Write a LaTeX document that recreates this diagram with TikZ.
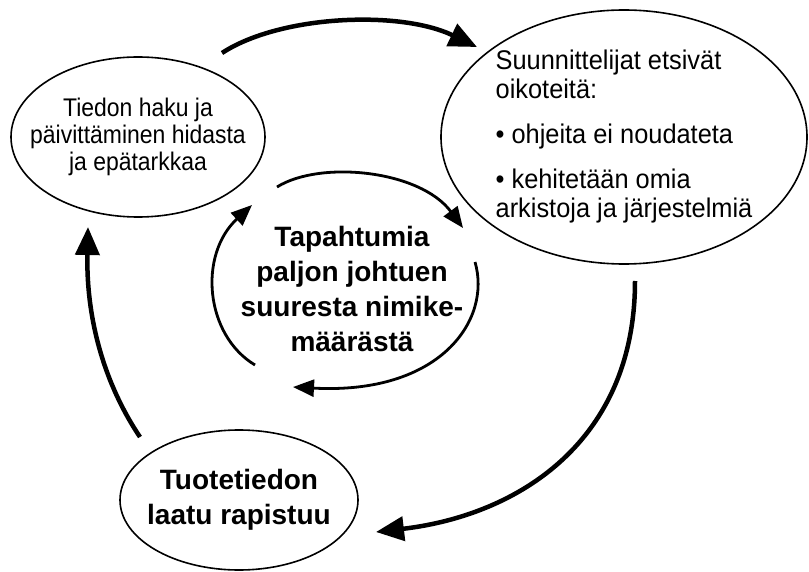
\documentclass[tikz,border=0pt]{standalone}
\usepackage{fontspec}
\setmainfont{Liberation Sans}
\newfontfamily\narrowsans[FakeStretch=0.9]{Liberation Sans}
\newfontfamily\semisans[FakeStretch=0.94]{Liberation Sans}
\usetikzlibrary{arrows.meta,shapes.geometric}

\begin{document}
\begin{tikzpicture}[x=1pt,y=-1pt,
bubble/.style={draw,ellipse,line width=1.6pt,inner xsep=-20pt,inner ysep=0pt,align=center},
heavy/.style={font=\fontsize{28}{35}\selectfont\bfseries},
outarr/.style={-{Triangle[length=28pt,width=24pt]},line width=4.5pt},
inarr/.style={-{Triangle[length=21pt,width=17pt]},line width=2.8pt}]
\useasboundingbox (0,0) rectangle (809,572);
\node[bubble,font=\narrowsans\fontsize{25.5}{27}\selectfont,minimum width=254pt,minimum height=160pt] (h) at (138,137) {Tiedon haku ja\\päivittäminen hidasta\\ja epätarkkaa};
\node[bubble,font=\semisans\fontsize{27}{29}\selectfont,align=left,minimum width=366pt,minimum height=254pt] (s) at (624,137) {Suunnittelijat etsivät\\oikoteitä:\\[16pt]• ohjeita ei noudateta\\[16pt]• kehitetään omia\\arkistoja ja järjestelmiä};
\node[bubble,heavy,minimum width=238pt,minimum height=140pt] (l) at (239,500) {Tuotetiedon\\laatu rapistuu};
\node[heavy,align=center,inner sep=0pt] (t) at (352,289) {Tapahtumia\\paljon johtuen\\suuresta nimike-\\määrästä};
% outer cycle
\coordinate (h-out) at (222,53); \coordinate (s-in) at (477,47);
\coordinate (s-out) at (635,281); \coordinate (l-in) at (376,532);
\coordinate (l-out) at (140,437); \coordinate (h-in) at (88,227);
\draw[outarr] (h-out) .. controls (280,15) and (400,10) .. (s-in);
\draw[outarr] (s-out) .. controls (635,440) and (520,515) .. (l-in);
\draw[outarr] (l-out) .. controls (105,385) and (86,320) .. (h-in);
% inner cycle
\coordinate (t1) at (277,187); \coordinate (t2) at (463,228);
\coordinate (t3) at (475,262); \coordinate (t4) at (293,387);
\coordinate (t5) at (255,365); \coordinate (t6) at (252,205);
\draw[inarr] (t1) .. controls (320,160) and (420,170) .. (t2);
\draw[inarr] (t3) .. controls (492,320) and (440,395) .. (t4);
\draw[inarr] (t5) .. controls (205,335) and (198,255) .. (t6);
\end{tikzpicture}
\end{document}
